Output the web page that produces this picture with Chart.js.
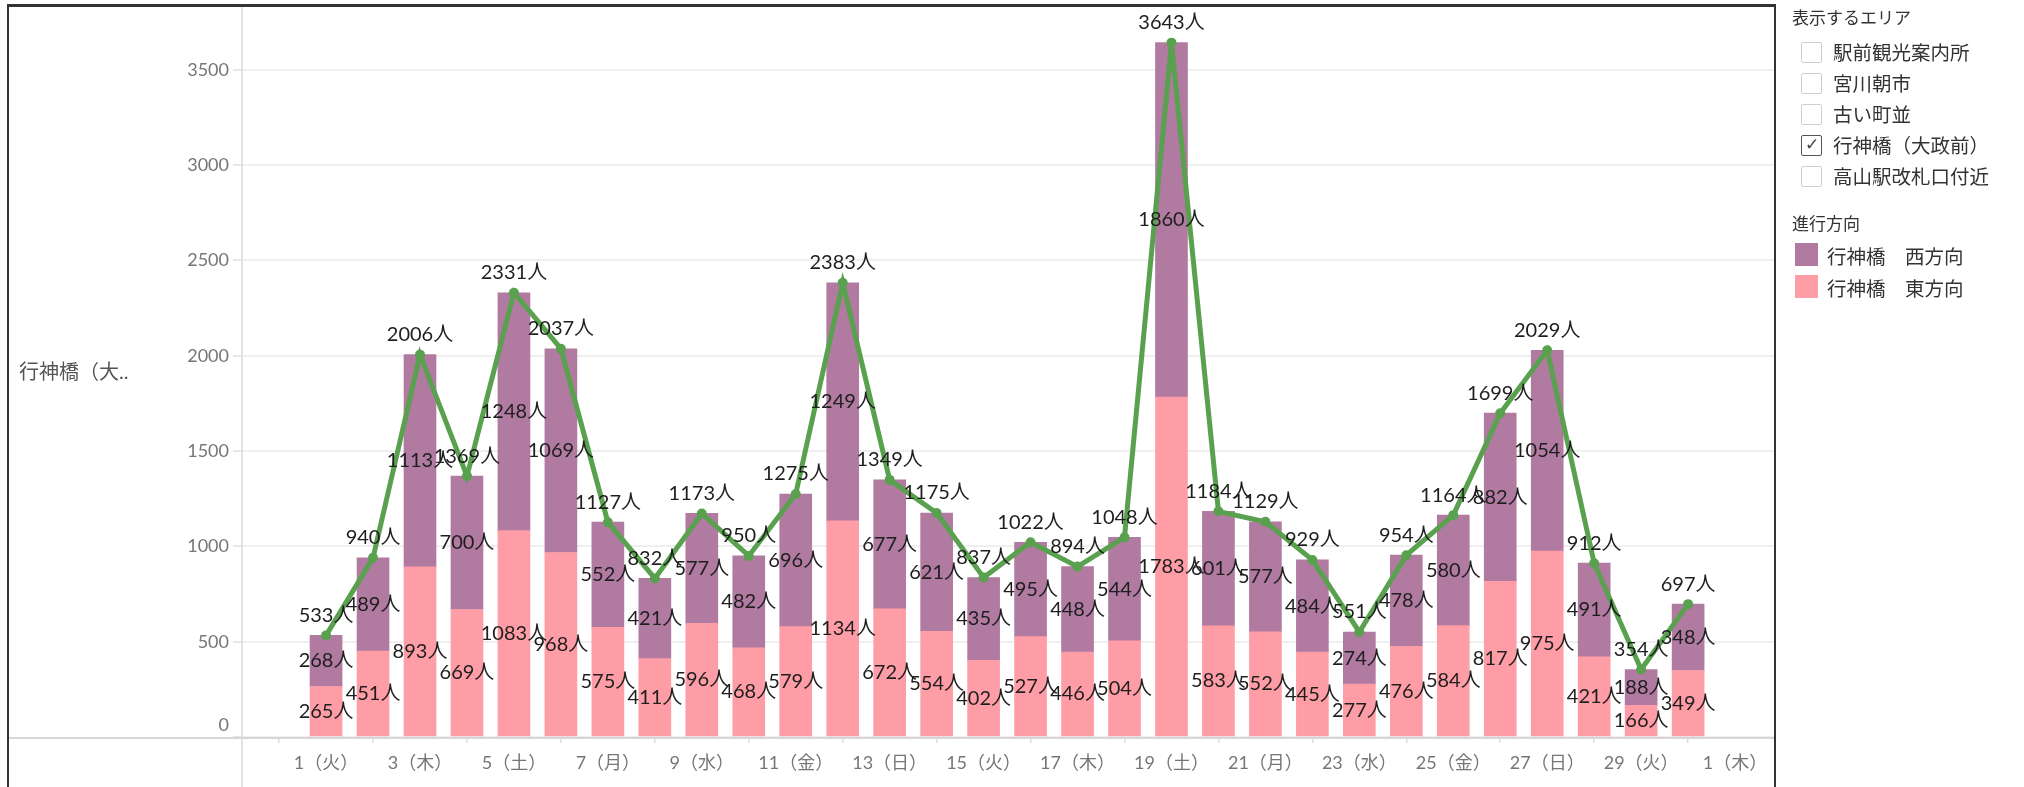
<!DOCTYPE html>
<html>
<head>
<meta charset="utf-8">
<script src="https://cdn.jsdelivr.net/npm/chart.js@4/dist/chart.umd.min.js"></script>
<style>
  html, body { margin: 0; padding: 0; background: #fff; width: 2024px; height: 787px; overflow: hidden; }
  body { position: relative; font-family: Lato, "Noto Sans CJK JP", sans-serif; }
  #c { position: absolute; left: 0; top: 0; }
  #frame { position: absolute; left: 7px; top: 4px; width: 1765px; height: 820px; border: 2px solid #333; border-top-width: 3px; pointer-events: none; }
  #ytitle { position: absolute; left: 19px; top: 359px; font-size: 20px; color: #555; line-height: 25px; white-space: nowrap; }
  .lg-title { position: absolute; left: 1792px; font-size: 17px; color: #333; line-height: 22px; white-space: nowrap; }
  .row { position: absolute; left: 1801px; height: 22px; white-space: nowrap; }
  .cb { position: absolute; left: 0; top: 0; width: 19px; height: 19px; border: 1.5px solid #cfcfcf; border-radius: 2px; background: #fff; }
  .cb.on { border-color: #555; }
  .cb.on::after { content: "✓"; position: absolute; left: 3px; top: -2px; font-size: 17px; color: #444; font-family: "DejaVu Sans", sans-serif; }
  .row span.t { position: absolute; left: 32px; top: -2px; font-size: 19.5px; line-height: 26px; color: #333; }
  .sw { position: absolute; left: 1795px; width: 23px; height: 23px; }
  .swt { position: absolute; left: 1827px; font-size: 19.5px; line-height: 26px; color: #333; white-space: nowrap; }
</style>
</head>
<body>
<canvas id="c" width="2024" height="787"></canvas>
<div id="frame"></div>
<div id="ytitle">行神橋（大..</div>

<div class="lg-title" style="top:7px">表示するエリア</div>
<div class="row" style="top:42px"><div class="cb"></div><span class="t">駅前観光案内所</span></div>
<div class="row" style="top:73px"><div class="cb"></div><span class="t">宮川朝市</span></div>
<div class="row" style="top:104px"><div class="cb"></div><span class="t">古い町並</span></div>
<div class="row" style="top:135px"><div class="cb on"></div><span class="t">行神橋（大政前）</span></div>
<div class="row" style="top:166px"><div class="cb"></div><span class="t">高山駅改札口付近</span></div>

<div class="lg-title" style="top:213px">進行方向</div>
<div class="sw" style="top:243px;background:#b07aa1"></div>
<div class="swt" style="top:244px">行神橋　西方向</div>
<div class="sw" style="top:275px;background:#ff9da7"></div>
<div class="swt" style="top:276px">行神橋　東方向</div>

<script>
// ---- data ----
const days = [1,2,3,4,5,6,7,8,9,10,11,12,13,14,15,16,17,18,19,20,21,22,23,24,25,26,27,28,29,30];
const eastValues = [265,451,893,669,1083,968,575,411,596,468,579,1134,672,554,402,527,446,504,1783,583,552,445,277,476,584,817,975,421,166,349];
const westValues = [268,489,1113,700,1248,1069,552,421,577,482,696,1249,677,621,435,495,448,544,1860,601,577,484,274,478,580,882,1054,491,188,348];
const totalValues = [533,940,2006,1369,2331,2037,1127,832,1173,950,1275,2383,1349,1175,837,1022,894,1048,3643,1184,1129,929,551,954,1164,1699,2029,912,354,697];
const tickDays = [1,3,5,7,9,11,13,15,17,19,21,23,25,27,29,31];
const tickLabels = ['1（火）','3（木）','5（土）','7（月）','9（水）','11（金）','13（日）','15（火）','17（木）','19（土）','21（月）','23（水）','25（金）','27（日）','29（火）','1（木）'];
const yTicks = [0,500,1000,1500,2000,2500,3000,3500];
const seriesNames = ['行神橋　東方向','行神橋　西方向','合計'];

const FONT = 'Lato, "Noto Sans CJK JP", sans-serif';
Chart.defaults.font.family = FONT;

const axisLines = {
  id: 'axisLines',
  beforeDatasetsDraw(chart) {
    const ctx = chart.ctx, a = chart.chartArea;
    ctx.save();
    ctx.strokeStyle = '#e2e2e2';
    ctx.lineWidth = 2;
    ctx.beginPath();
    ctx.moveTo(a.left, a.top);
    ctx.lineTo(a.left, chart.height);
    ctx.stroke();
    ctx.strokeStyle = '#d6d6d6';
    ctx.beginPath();
    ctx.moveTo(9, a.bottom + 1);
    ctx.lineTo(a.right, a.bottom + 1);
    ctx.stroke();
    // y tick labels, kept inside the pane like the original
    const ys = chart.scales.y;
    ctx.font = '18px ' + FONT;
    ctx.fillStyle = '#767676';
    ctx.textAlign = 'right';
    ctx.textBaseline = 'middle';
    ys.ticks.forEach(t => {
      const py = Math.min(ys.getPixelForValue(t.value), a.bottom - 12);
      ctx.fillText(String(t.value), a.left - 13, py);
    });
    ctx.restore();
  }
};

const dataLabels = {
  id: 'dataLabels',
  afterDatasetsDraw(chart) {
    const ctx = chart.ctx;
    ctx.save();
    ctx.font = '20px ' + FONT;
    ctx.fillStyle = '#1e1e1e';
    ctx.textAlign = 'center';
    ctx.textBaseline = 'middle';
    chart.data.datasets.forEach((ds, di) => {
      const meta = chart.getDatasetMeta(di);
      meta.data.forEach((el, i) => {
        const v = ds.data[i].y;
        if (ds.type === 'bar') {
          ctx.fillText(v + '人', el.x, (el.y + el.base) / 2);
        } else {
          ctx.fillText(v + '人', el.x, el.y - 20);
        }
      });
    });
    ctx.restore();
  }
};

new Chart(document.getElementById('c'), {
  data: {
    datasets: [
      { type: 'bar', label: seriesNames[0], data: days.map((d, i) => ({ x: d, y: eastValues[i] })),
        backgroundColor: '#ff9da7', barThickness: 32, stack: 'dir', order: 1 },
      { type: 'bar', label: seriesNames[1], data: days.map((d, i) => ({ x: d, y: westValues[i] })),
        backgroundColor: '#b07aa1', barThickness: 32, stack: 'dir', order: 1 },
      { type: 'line', label: seriesNames[2], data: days.map((d, i) => ({ x: d, y: totalValues[i] })),
        borderColor: '#59a14f', backgroundColor: '#59a14f', borderWidth: 5, pointRadius: 5,
        pointBorderWidth: 0, pointBackgroundColor: '#59a14f', tension: 0, stack: 'total', order: 0 }
    ]
  },
  options: {
    responsive: false,
    animation: false,
    devicePixelRatio: 1,
    layout: { padding: { left: 7, top: 7, right: 249, bottom: 0 } },
    plugins: { legend: { display: false }, tooltip: { enabled: false } },
    scales: {
      x: {
        type: 'linear', min: -0.79, max: 31.85, stacked: true, offset: false,
        afterBuildTicks: s => { s.ticks = tickDays.map(v => ({ value: v })); },
        afterFit: s => { s.height = 50; },
        ticks: {
          autoSkip: false, maxRotation: 0, color: '#767676', padding: 9,
          font: { size: 18, family: FONT },
          callback: (v) => { const k = tickDays.indexOf(v); return k >= 0 ? tickLabels[k] : ''; }
        },
        grid: { drawOnChartArea: false, drawTicks: true, tickLength: 6, tickColor: '#dddddd', lineWidth: 1.5 },
        border: { display: false }
      },
      y: {
        min: 0, max: 3830, stacked: true,
        afterBuildTicks: s => { s.ticks = yTicks.map(v => ({ value: v })); },
        afterFit: s => { s.width = 235; },
        ticks: { display: false },
        grid: { color: '#efefef', lineWidth: 2, drawTicks: true, tickLength: 9, tickColor: '#e6e6e6' },
        border: { display: false }
      }
    }
  },
  plugins: [axisLines, dataLabels]
});
</script>
</body>
</html>
